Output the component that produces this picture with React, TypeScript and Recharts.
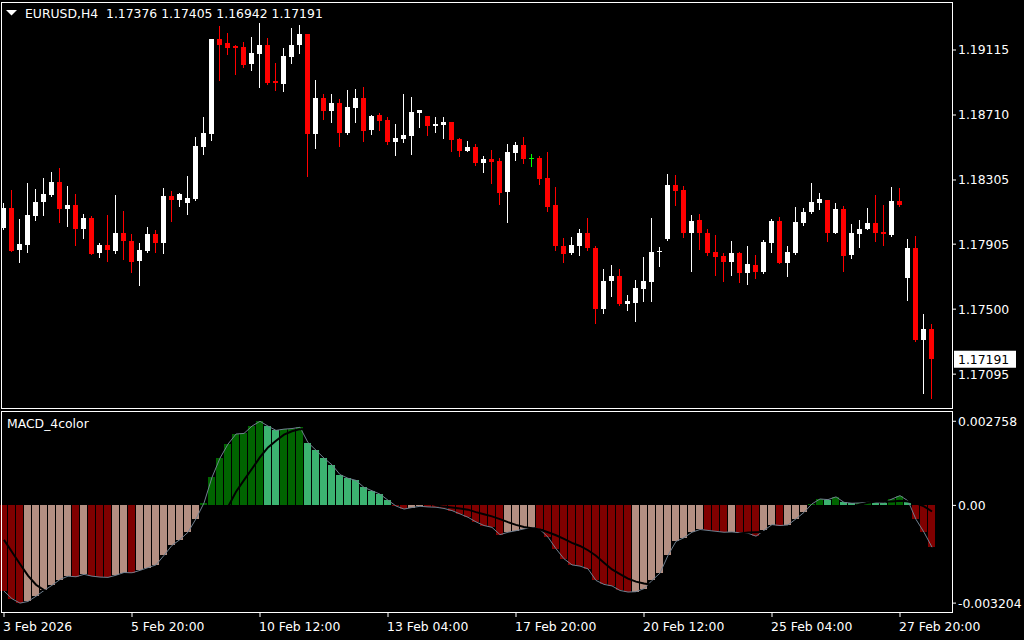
import React from 'react';
import { ComposedChart, Bar, Line, XAxis, YAxis, ReferenceLine } from 'recharts';

// EURUSD H4 candles
const opens = [
  1.18006, 1.18131, 1.17869, 1.179, 1.18081, 1.18168, 1.18212, 1.18293, 1.18124, 1.18149,
  1.18, 1.18068, 1.1785, 1.179, 1.17863, 1.17975, 1.17925, 1.178, 1.17863, 1.17969,
  1.17912, 1.18205, 1.1818, 1.18162, 1.18187, 1.18511, 1.18592, 1.19184, 1.19159, 1.1914,
  1.19134, 1.19028, 1.1909, 1.19146, 1.18922, 1.18903, 1.19071, 1.19146, 1.19215, 1.18592,
  1.18816, 1.18735, 1.18785, 1.18598, 1.18754, 1.18816, 1.18617, 1.1871, 1.18679, 1.18542,
  1.1856, 1.18579, 1.18722, 1.18704, 1.18641, 1.18648, 1.18666, 1.1856, 1.18486, 1.18511,
  1.18411, 1.18436, 1.18423, 1.1823, 1.18473, 1.18523, 1.18442, 1.18442, 1.18317, 1.18149,
  1.17894, 1.1785, 1.17894, 1.17975, 1.17881, 1.17501, 1.17676, 1.17707, 1.17532, 1.17539,
  1.17626, 1.17669, 1.17856, 1.17937, 1.18274, 1.18243, 1.17975, 1.18056, 1.17975, 1.17856,
  1.17831, 1.17794, 1.1785, 1.17725, 1.17775, 1.17732, 1.17912, 1.1805, 1.17788, 1.1785,
  1.18037, 1.18106, 1.18162, 1.1818, 1.17975, 1.18124, 1.17838, 1.17969, 1.18, 1.18037,
  1.17981, 1.17962, 1.18174, 1.17694, 1.17881, 1.17308, 1.17376,
];
const highs = [
  1.18162, 1.18243, 1.18062, 1.18286, 1.18249, 1.18317, 1.18355, 1.1838, 1.18268, 1.18218,
  1.18093, 1.18081, 1.17912, 1.18087, 1.18212, 1.18112, 1.17969, 1.17912, 1.18012, 1.17993,
  1.18255, 1.18236, 1.18224, 1.1833, 1.18573, 1.18698, 1.19184, 1.19265, 1.19221, 1.19146,
  1.19165, 1.19196, 1.19283, 1.1919, 1.19034, 1.19127, 1.19252, 1.19271, 1.19215, 1.18928,
  1.18841, 1.18841, 1.1881, 1.18866, 1.18872, 1.18885, 1.1871, 1.18722, 1.18698, 1.18654,
  1.18841, 1.18822, 1.18741, 1.18704, 1.18698, 1.18698, 1.18666, 1.18567, 1.18548, 1.18529,
  1.18455, 1.18492, 1.18442, 1.18529, 1.18542, 1.18573, 1.18467, 1.18455, 1.18479, 1.18261,
  1.17944, 1.1795, 1.18, 1.18068, 1.17894, 1.1775, 1.17775, 1.1775, 1.17588, 1.17682,
  1.17825, 1.18068, 1.17888, 1.18342, 1.18336, 1.18268, 1.18087, 1.18093, 1.18, 1.17962,
  1.1785, 1.17925, 1.17856, 1.17894, 1.17838, 1.17931, 1.18062, 1.18074, 1.17894, 1.18137,
  1.18131, 1.18286, 1.18224, 1.1818, 1.18162, 1.18143, 1.18031, 1.18056, 1.18131, 1.18212,
  1.18149, 1.18261, 1.18255, 1.17937, 1.17956, 1.1747, 1.17405,
];
const lows = [
  1.17993, 1.17856, 1.17788, 1.1785, 1.1805, 1.18081, 1.18199, 1.18037, 1.18012, 1.17894,
  1.17937, 1.17838, 1.17819, 1.17794, 1.17844, 1.17806, 1.17725, 1.17644, 1.1785, 1.1785,
  1.17844, 1.18043, 1.18137, 1.18087, 1.18174, 1.18461, 1.18548, 1.18922, 1.19084, 1.18959,
  1.19003, 1.18984, 1.18878, 1.18897, 1.1886, 1.18853, 1.19028, 1.1909, 1.18324, 1.18498,
  1.18679, 1.1866, 1.18511, 1.18585, 1.1866, 1.18542, 1.18585, 1.1861, 1.18523, 1.18455,
  1.18536, 1.18461, 1.18629, 1.18579, 1.18598, 1.1856, 1.18479, 1.18448, 1.18479, 1.18392,
  1.18349, 1.1828, 1.18149, 1.18037, 1.18423, 1.18405, 1.18386, 1.18274, 1.18106, 1.17863,
  1.17788, 1.17838, 1.17831, 1.17863, 1.17408, 1.1747, 1.17576, 1.1752, 1.17489, 1.1742,
  1.17545, 1.17545, 1.17763, 1.17925, 1.18143, 1.17944, 1.17732, 1.17869, 1.17831, 1.17707,
  1.17669, 1.17707, 1.17663, 1.17651, 1.17688, 1.17719, 1.1785, 1.17782, 1.17701, 1.17838,
  1.18018, 1.18093, 1.18118, 1.17919, 1.17969, 1.17732, 1.17813, 1.17881, 1.17993, 1.17919,
  1.17894, 1.1795, 1.18137, 1.17551, 1.17296, 1.16972, 1.16942,
];
const closes = [
  1.18131, 1.17863, 1.17906, 1.18087, 1.18168, 1.18218, 1.18293, 1.18124, 1.18149, 1.18,
  1.18068, 1.17844, 1.179, 1.17869, 1.17975, 1.17925, 1.17794, 1.17869, 1.17969, 1.17912,
  1.18205, 1.1818, 1.18218, 1.18193, 1.18517, 1.18598, 1.19184, 1.19146, 1.19127, 1.19127,
  1.19022, 1.19096, 1.19146, 1.18909, 1.18909, 1.19078, 1.19146, 1.19215, 1.18592, 1.18816,
  1.18735, 1.18785, 1.18598, 1.1876, 1.18816, 1.1861, 1.18704, 1.18673, 1.18542, 1.18567,
  1.18585, 1.18729, 1.18741, 1.18641, 1.18654, 1.18666, 1.18554, 1.18486, 1.18511, 1.18411,
  1.18436, 1.18417, 1.18224, 1.18479, 1.18523, 1.18436, 1.18442, 1.18311, 1.18137, 1.17894,
  1.17844, 1.179, 1.17975, 1.17881, 1.17501, 1.17676, 1.17707, 1.17532, 1.17551, 1.17632,
  1.17676, 1.17856, 1.17862, 1.18274, 1.18236, 1.17975, 1.1805, 1.17975, 1.1785, 1.17825,
  1.17794, 1.1785, 1.17725, 1.17782, 1.17732, 1.17919, 1.1805, 1.17788, 1.17856, 1.18043,
  1.18106, 1.18168, 1.18187, 1.17975, 1.18124, 1.17831, 1.17975, 1.18, 1.18037, 1.17975,
  1.17969, 1.18174, 1.18149, 1.17881, 1.17308, 1.17377, 1.17191,
];

// MACD_4color: main value, signal, and bar colour state
// G = up & rising, L = up & falling, D = down & falling, R = down & rising
const macd = [
  -0.00281, -0.00306, -0.003204, -0.00315, -0.00298, -0.00279, -0.00262, -0.00243, -0.00232, -0.00234,
  -0.00226, -0.00232, -0.00235, -0.00236, -0.00229, -0.0022, -0.00221, -0.00213, -0.00204, -0.00195,
  -0.00164, -0.00131, -0.00112, -0.00088, -0.00044, 0.00008, 0.00092, 0.00155, 0.00201, 0.00234,
  0.00236, 0.0026, 0.002758, 0.0026, 0.00246, 0.0025, 0.00252, 0.00256, 0.00206, 0.00181,
  0.00155, 0.00133, 0.00101, 0.00089, 0.00082, 0.00059, 0.00048, 0.00037, 0.00017, -0.00002,
  -0.00012, -0.00007, -0.00003, -0.00005, -0.00006, -0.0001, -0.00017, -0.00028, -0.00039, -0.00054,
  -0.00066, -0.00072, -0.00096, -0.00088, -0.00083, -0.00077, -0.00072, -0.00079, -0.00104, -0.00142,
  -0.00175, -0.00195, -0.00199, -0.00208, -0.00246, -0.00259, -0.00264, -0.00279, -0.00284, -0.00283,
  -0.00273, -0.00246, -0.00222, -0.00164, -0.00118, -0.00106, -0.00088, -0.00079, -0.00082, -0.00085,
  -0.00088, -0.00087, -0.0009, -0.00091, -0.00101, -0.00082, -0.00063, -0.00066, -0.00064, -0.00044,
  -0.00023, 0.00005, 0.00021, 0.00019, 0.00028, 0.0001, 0.00007, 0.00008, 0.0001, 0.00009,
  0.00008, 0.00021, 0.00032, 0.00015, -0.00046, -0.00088, -0.00137,
];
const signal = [
  -0.00113, -0.00153, -0.00192, -0.0023, -0.0026, -0.00278, -0.00286, -0.00288, -0.00284, -0.00278,
  -0.00269, -0.0026, -0.00251, -0.00244, -0.00237, -0.00231, -0.00227, -0.00224, -0.0022, -0.00216,
  -0.00209, -0.00198, -0.00186, -0.00172, -0.00154, -0.0013, -0.00095, -0.00052, -0.00005, 0.00045,
  0.00083, 0.0012, 0.00158, 0.0019, 0.00212, 0.00232, 0.00243, 0.0025, 0.0025, 0.00244,
  0.00235, 0.00222, 0.00207, 0.0019, 0.0017, 0.00148, 0.00127, 0.00107, 0.00088, 0.00068,
  0.0005, 0.00035, 0.00022, 0.0001, 0.0, -0.00004, -0.00007, -0.0001, -0.00014, -0.00022,
  -0.00029, -0.00036, -0.00045, -0.00055, -0.00064, -0.00071, -0.00075, -0.00079, -0.00088, -0.00098,
  -0.0011, -0.00123, -0.00133, -0.00147, -0.00165, -0.00188, -0.0021, -0.00225, -0.0024, -0.0025,
  -0.00256, -0.0026, -0.00262, -0.00253, -0.00237, -0.00219, -0.00198, -0.00175, -0.00153, -0.00132,
  -0.00115, -0.001, -0.00092, -0.00089, -0.00088, -0.00087, -0.00086, -0.00084, -0.00081, -0.00076,
  -0.00069, -0.00059, -0.00046, -0.00033, -0.00021, -0.00013, -0.00005, 0.00003, 0.00009, 0.00013,
  0.00013, 0.00013, 0.00015, 0.00013, 0.00007, -0.00003, -0.0002,
];
const histState = (
  'DDDRRRRRRD' + 'RDDDRRDRRR' + 'RRRRRGGGGG' + 'GGGLLGGGLL' + 'LLLLLLLLLD' +
  'DRRDDDDDDD' + 'DDDRRRRDDD' + 'DDDDDDDDDR' + 'RRRRRRRRDD' + 'DRDDDRRDRR' +
  'RGGLGLLGGL' + 'LGGLDDD'
).split('');

const priceTicks = [1.17095, 1.175, 1.17905, 1.18305, 1.1871, 1.19115];
const macdTicks = [-0.003204, 0, 0.002758];
const timeTickIdx = [0, 16, 32, 48, 64, 80, 96, 112];
const timeTickLabels = [
  '3 Feb 2026', '5 Feb 20:00', '10 Feb 12:00', '13 Feb 04:00',
  '17 Feb 20:00', '20 Feb 12:00', '25 Feb 04:00', '27 Feb 20:00',
];
const lastPrice = 1.17191;

const FONT = '"DejaVu Sans", Verdana, sans-serif';
const FS = 12.4;
const HIST_FILL: Record<string, string> = {
  G: '#006400',
  L: '#3cb371',
  D: '#800000',
  R: '#b48f82',
};

const rows = opens.map((o, i) => ({
  i,
  hl: [lows[i], highs[i]],
  open: o,
  high: highs[i],
  low: lows[i],
  close: closes[i],
  macd: macd[i],
  signal: signal[i],
  state: histState[i],
}));

function Candle(props: any) {
  const { x, y, width, height, payload } = props;
  const { open, close, high, low } = payload;
  const cx = Math.round(x + width / 2);
  const top = Math.min(y, y + height);
  const h = Math.abs(height);
  const k = high > low ? h / (high - low) : 0;
  const yOf = (v: number) => top + (high - v) * k;
  const color = close > open ? '#ffffff' : close < open ? '#ff0000' : '#00ff00';
  const wTop = Math.round(top);
  const wBot = Math.round(top + h);
  const bTop = Math.round(yOf(Math.max(open, close)));
  const bBot = Math.round(yOf(Math.min(open, close)));
  return (
    <g>
      <rect x={cx - 1} y={wTop} width={1} height={Math.max(1, wBot - wTop)} fill={color} />
      <rect x={cx - 3} y={bTop} width={5} height={Math.max(1, bBot - bTop)} fill={color} />
    </g>
  );
}

function HistBar(props: any) {
  const { x, y, width, height, payload } = props;
  const cx = Math.round(x + width / 2);
  const top = Math.round(Math.min(y, y + height));
  const bot = Math.round(Math.max(y, y + height));
  return <rect x={cx - 4} y={top} width={7} height={Math.max(1, bot - top)} fill={HIST_FILL[payload.state]} />;
}

function TimeTick(props: any) {
  const { x, y, payload } = props;
  const n = timeTickIdx.indexOf(Number(payload.value));
  return (
    <text x={x - 1} y={y + 12} fill="#ffffff" fontSize={FS} fontFamily={FONT}>
      {timeTickLabels[n]}
    </text>
  );
}

function PriceTag(props: any) {
  const vb = props.viewBox || {};
  const rx = vb.x + vb.width + 2;
  const ry = vb.y;
  return (
    <g>
      <rect x={rx} y={ry - 8} width={62} height={17} fill="#ffffff" />
      <text x={rx + 4} y={ry + 5} fill="#000000" fontSize={FS} fontFamily={FONT}>
        {lastPrice.toFixed(5)}
      </text>
    </g>
  );
}

const tickStyle = { fill: '#ffffff', fontSize: FS, fontFamily: FONT };

export default function App() {
  return (
    <div style={{ position: 'absolute', left: 0, top: 0, width: 1024, height: 640, background: '#000', overflow: 'hidden' }}>
      <div style={{ position: 'absolute', left: 0, top: 0 }}>
        <ComposedChart width={1024} height={410} data={rows} margin={{ top: 3, right: 0, bottom: 2, left: 0 }}>
          <XAxis dataKey="i" hide padding={{ left: 0, right: 16 }} />
          <YAxis
            orientation="right"
            width={72}
            domain={[1.16884, 1.19408]}
            allowDataOverflow
            ticks={priceTicks}
            interval={0}
            tickFormatter={(v: number) => v.toFixed(5)}
            tick={tickStyle}
            tickSize={4}
            tickMargin={2}
            tickLine={{ stroke: '#ffffff' }}
            axisLine={false}
          />
          <Bar dataKey="hl" barSize={8} shape={<Candle />} isAnimationActive={false} />
          <ReferenceLine y={lastPrice} stroke="none" ifOverflow="visible" label={<PriceTag />} />
        </ComposedChart>
      </div>

      <div style={{ position: 'absolute', left: 0, top: 409 }}>
        <ComposedChart width={1024} height={231} data={rows} margin={{ top: 3, right: 0, bottom: 0, left: 0 }}>
          <XAxis
            dataKey="i"
            height={28}
            padding={{ left: 0, right: 16 }}
            ticks={timeTickIdx}
            interval={0}
            tick={<TimeTick />}
            tickSize={5}
            tickLine={{ stroke: '#ffffff' }}
            axisLine={false}
          />
          <YAxis
            orientation="right"
            width={72}
            domain={[-0.003495, 0.003062]}
            allowDataOverflow
            ticks={macdTicks}
            interval={0}
            tickFormatter={(v: number) => (v === 0 ? '0.00' : v.toFixed(6))}
            tick={tickStyle}
            tickSize={4}
            tickMargin={2}
            tickLine={{ stroke: '#ffffff' }}
            axisLine={false}
          />
          <Bar dataKey="macd" barSize={8} shape={<HistBar />} isAnimationActive={false} />
          <Line dataKey="macd" type="linear" stroke="#708090" strokeWidth={1} dot={false} isAnimationActive={false} />
          <Line dataKey="signal" type="linear" stroke="#000000" strokeWidth={2} dot={false} isAnimationActive={false} />
        </ComposedChart>
      </div>

      <svg width={1024} height={640} style={{ position: 'absolute', left: 0, top: 0, pointerEvents: 'none' }}>
        <rect x={1.5} y={2.5} width={951} height={406} fill="none" stroke="#ffffff" strokeWidth={1} />
        <rect x={1.5} y={411.5} width={951} height={201} fill="none" stroke="#ffffff" strokeWidth={1} />
        <polygon points="6,10 17,10 11.5,15.5" fill="#ffffff" />
        <text x={25} y={18} fill="#ffffff" fontSize={FS} fontFamily={FONT}>EURUSD,H4</text>
        <text x={106} y={18} fill="#ffffff" fontSize={FS} fontFamily={FONT}>1.17376 1.17405 1.16942 1.17191</text>
        <text x={7} y={428} fill="#ffffff" fontSize={FS} fontFamily={FONT}>MACD_4color</text>
      </svg>
    </div>
  );
}
